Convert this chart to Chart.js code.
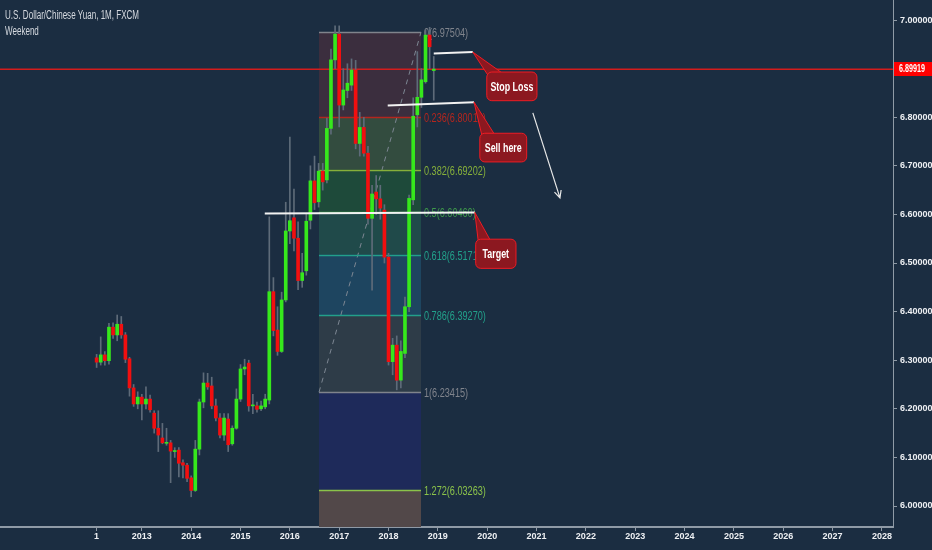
<!DOCTYPE html>
<html>
<head>
<meta charset="utf-8">
<script src="https://cdn.jsdelivr.net/npm/chart.js@4.4.1/dist/chart.umd.min.js"></script>
<style>
  html, body { margin: 0; padding: 0; background: #1b2d41; }
</style>
</head>
<body>
<canvas id="grafico" width="932" height="550"></canvas>
<script>
// meses contados a partir de jan/2012 (0 = jan 2012), candles mensais fev/2012 .. dez/2018
const primeiroMes = 1;
const opens  = [6.305,6.296,6.311,6.299,6.368,6.352,6.374,6.352,6.303,6.243,6.210,6.224,6.210,6.220,6.191,6.160,6.140,6.129,6.130,6.112,6.115,6.089,6.084,6.058,
                6.032,6.117,6.214,6.253,6.247,6.206,6.181,6.146,6.179,6.128,6.160,6.220,6.282,6.294,6.206,6.206,6.200,6.204,6.218,6.441,6.362,6.318,6.424,6.566,
                6.593,6.551,6.464,6.484,6.588,6.669,6.626,6.689,6.671,6.777,6.918,6.971,6.825,6.855,6.866,6.897,6.746,6.779,6.726,6.592,6.646,6.632,6.609,6.512,
                6.297,6.331,6.259,6.314,6.410,6.630,6.805,6.841,6.873,6.969,6.896];
const highs  = [6.312,6.348,6.318,6.376,6.377,6.393,6.390,6.357,6.306,6.250,6.235,6.230,6.245,6.228,6.196,6.196,6.170,6.160,6.135,6.120,6.120,6.095,6.088,6.062,
                6.135,6.220,6.274,6.273,6.265,6.220,6.190,6.190,6.190,6.165,6.241,6.291,6.302,6.300,6.230,6.214,6.216,6.230,6.595,6.470,6.410,6.440,6.625,6.759,
                6.652,6.585,6.520,6.600,6.700,6.720,6.705,6.705,6.798,6.940,6.988,6.988,6.900,6.910,6.920,6.917,6.810,6.800,6.740,6.660,6.680,6.660,6.620,6.520,
                6.345,6.350,6.340,6.430,6.640,6.840,6.935,6.900,6.980,6.985,6.925];
const lows   = [6.285,6.290,6.290,6.292,6.345,6.340,6.345,6.295,6.226,6.205,6.200,6.177,6.200,6.193,6.150,6.112,6.128,6.125,6.048,6.100,6.060,6.058,6.050,6.019,
                6.030,6.105,6.202,6.240,6.200,6.175,6.140,6.135,6.112,6.125,6.158,6.215,6.270,6.195,6.190,6.193,6.196,6.200,6.210,6.350,6.310,6.316,6.420,6.540,
                6.525,6.445,6.450,6.475,6.570,6.610,6.615,6.650,6.665,6.765,6.900,6.780,6.815,6.840,6.855,6.735,6.720,6.720,6.580,6.444,6.600,6.590,6.500,6.290,
                6.270,6.239,6.243,6.305,6.400,6.620,6.780,6.820,6.870,6.900,6.835];
const closes = [6.296,6.311,6.299,6.368,6.352,6.374,6.352,6.302,6.243,6.210,6.224,6.210,6.220,6.198,6.160,6.146,6.130,6.131,6.113,6.114,6.088,6.084,6.057,6.032,
                6.117,6.214,6.253,6.245,6.206,6.181,6.146,6.181,6.126,6.160,6.220,6.282,6.286,6.206,6.208,6.199,6.206,6.220,6.441,6.361,6.318,6.424,6.566,6.587,
                6.551,6.464,6.480,6.586,6.669,6.624,6.689,6.667,6.777,6.918,6.971,6.825,6.856,6.870,6.897,6.746,6.779,6.726,6.592,6.642,6.632,6.613,6.512,6.297,
                6.331,6.259,6.318,6.410,6.633,6.802,6.841,6.877,6.969,6.945,6.899];
const precoAtual = 6.89919;

// eixos
const xTicksMes = [1,12,24,36,48,60,72,84,96,108,120,132,144,156,168,180,192];
const xTicksLabel = ['1','2013','2014','2015','2016','2017','2018','2019','2020','2021','2022','2023','2024','2025','2026','2027','2028'];
const yTicks = [6.0,6.1,6.2,6.3,6.4,6.5,6.6,6.7,6.8,6.9,7.0];

// fibonacci
const fibRatios = [0, 0.236, 0.382, 0.5, 0.618, 0.786, 1, 1.272, 1.618];
const fibPrecos = [6.97504, 6.80019, 6.69202, 6.60460, 6.51717, 6.39270, 6.23415, 6.03263, 5.77628];
const fibInicio = 55.06, fibFim = 79.9;

// desenhos (mes, preco)
const linhaStop   = [[83.0, 6.931], [92.5, 6.934]];
const linhaVenda  = [[71.8, 6.824], [92.8, 6.831]];
const linhaAlvo   = [[41.9, 6.602], [93.0, 6.604]];
const balaoTextos = ['Stop Loss', 'Sell here', 'Target'];
const balaoCaixas = [[95.9, 6.893, 108.1, 6.834], [94.2, 6.767, 105.6, 6.708], [93.2, 6.549, 103.0, 6.489]];
const seta = [[107.1, 6.809], [113.7, 6.634]];

const meses = opens.map((_, i) => primeiroMes + i);
const corAlta = '#36e81c', corBaixa = '#f20f0f';
const coresCandle = opens.map((o, i) => closes[i] >= o ? corAlta : corBaixa);

const fonte = '"Liberation Sans", Arial, sans-serif';
const fibFundo = ['#3b2e3e', '#334c3f', '#1e4a3a', '#204a4a', '#1e4560', '#2e3c48', '#1e2a5a', '#524849'];
const fibLinha = ['#80848c', '#b3261e', '#86b03a', '#3e9a4a', '#22a08a', '#22a08a', '#80848c', '#8bc34a'];

// texto estreito (a fonte original e condensada)
function textoEstreito(ctx, txt, x, y, escala) {
  ctx.save();
  ctx.translate(x, y);
  ctx.scale(escala, 1);
  ctx.fillText(txt, 0, 0);
  ctx.restore();
}

const fibPlugin = {
  id: 'fib',
  beforeDatasetsDraw(chart) {
    const { ctx, chartArea: a, scales: { x, y } } = chart;
    ctx.save();
    ctx.beginPath();
    ctx.rect(a.left, a.top, a.right - a.left, a.bottom - a.top);
    ctx.clip();
    const x0 = Math.round(x.getPixelForValue(fibInicio));
    const x1 = Math.round(x.getPixelForValue(fibFim));
    for (let i = 0; i < fibFundo.length; i++) {
      const yA = y.getPixelForValue(fibPrecos[i]);
      const yB = y.getPixelForValue(fibPrecos[i + 1]);
      ctx.fillStyle = fibFundo[i];
      ctx.fillRect(x0, yA, x1 - x0, yB - yA);
    }
    // linha pontilhada diagonal
    ctx.strokeStyle = '#7d8793';
    ctx.lineWidth = 1;
    ctx.setLineDash([5, 5]);
    ctx.beginPath();
    ctx.moveTo(x0, y.getPixelForValue(fibPrecos[6]));
    ctx.lineTo(x1, y.getPixelForValue(fibPrecos[0]));
    ctx.stroke();
    ctx.setLineDash([]);
    ctx.lineWidth = 1.5;
    for (let i = 0; i < fibLinha.length; i++) {
      const yy = Math.round(y.getPixelForValue(fibPrecos[i])) + 0.5;
      ctx.strokeStyle = fibLinha[i];
      ctx.beginPath();
      ctx.moveTo(x0, yy);
      ctx.lineTo(x1, yy);
      ctx.stroke();
      ctx.fillStyle = fibLinha[i];
      ctx.font = '12px ' + fonte;
      ctx.textBaseline = 'middle';
      textoEstreito(ctx, String(fibRatios[i]) + '(' + fibPrecos[i].toFixed(5) + ')', x1 + 3, yy + 1, 0.76);
    }
    // linha do preco atual
    const yp = Math.round(y.getPixelForValue(precoAtual));
    ctx.fillStyle = '#d41c1c';
    ctx.fillRect(a.left, yp - 0.5, a.right - a.left, 1.5);
    ctx.restore();
  },
  afterDatasetsDraw(chart) {
    const { ctx, scales: { x, y } } = chart;
    const px = p => [x.getPixelForValue(p[0]), y.getPixelForValue(p[1])];
    ctx.save();
    // linhas brancas
    ctx.strokeStyle = '#f2f2f2';
    ctx.lineWidth = 2;
    [linhaStop, linhaVenda, linhaAlvo].forEach(l => {
      const [ax, ay] = px(l[0]);
      const [bx, by] = px(l[1]);
      ctx.beginPath();
      ctx.moveTo(ax, ay);
      ctx.lineTo(bx, by);
      ctx.stroke();
    });
    // baloes
    const pontas = [linhaStop[1], linhaVenda[1], linhaAlvo[1]];
    balaoCaixas.forEach((c, i) => {
      const [l, t] = px([c[0], c[1]]);
      const [r, b] = px([c[2], c[3]]);
      const [tx, ty] = px(pontas[i]);
      ctx.fillStyle = '#8c1820';
      ctx.strokeStyle = '#ee1c24';
      ctx.lineWidth = 1;
      ctx.beginPath();
      ctx.moveTo(l + 3, t + 6);
      ctx.lineTo(tx, ty);
      ctx.lineTo(l + 14, t);
      ctx.closePath();
      ctx.fill();
      ctx.stroke();
      ctx.beginPath();
      ctx.roundRect(l, t, r - l, b - t, 5);
      ctx.fill();
      ctx.stroke();
      ctx.fillStyle = '#ffffff';
      ctx.font = 'bold 12px ' + fonte;
      ctx.textAlign = 'center';
      ctx.textBaseline = 'middle';
      textoEstreito(ctx, balaoTextos[i], (l + r) / 2, (t + b) / 2 + 1, 0.74);
    });
    // seta
    const [sx, sy] = px(seta[0]);
    const [ex, ey] = px(seta[1]);
    const ang = Math.atan2(ey - sy, ex - sx);
    ctx.strokeStyle = '#e8e8e8';
    ctx.lineWidth = 1.2;
    ctx.beginPath();
    ctx.moveTo(sx, sy);
    ctx.lineTo(ex, ey);
    ctx.moveTo(ex - 8 * Math.cos(ang - 0.45), ey - 8 * Math.sin(ang - 0.45));
    ctx.lineTo(ex, ey);
    ctx.lineTo(ex - 8 * Math.cos(ang + 0.45), ey - 8 * Math.sin(ang + 0.45));
    ctx.stroke();
    ctx.restore();
  },
  afterDraw(chart) {
    const { ctx, chartArea: a, scales: { y } } = chart;
    ctx.save();
    // titulo
    ctx.fillStyle = '#d6dae0';
    ctx.font = '12px ' + fonte;
    ctx.textBaseline = 'middle';
    textoEstreito(ctx, 'U.S. Dollar/Chinese Yuan, 1M, FXCM', 5, 16, 0.67);
    textoEstreito(ctx, 'Weekend', 5, 32, 0.67);
    // etiqueta do preco
    const yp = y.getPixelForValue(precoAtual);
    ctx.fillStyle = '#ff0000';
    ctx.fillRect(a.right + 1, yp - 7, 39, 14);
    ctx.fillStyle = '#ffffff';
    ctx.font = 'bold 10px ' + fonte;
    textoEstreito(ctx, precoAtual.toFixed(5), a.right + 6, yp + 0.5, 0.72);
    ctx.restore();
  }
};

const corEixo = '#8f9aa6';
new Chart(document.getElementById('grafico'), {
  type: 'bar',
  data: {
    datasets: [{
      label: 'corpo',
      data: meses.map((m, i) => ({ x: m, y: [opens[i], closes[i]] })),
      backgroundColor: coresCandle,
      barThickness: 3,
      minBarLength: 1,
      grouped: false,
      order: 1
    }, {
      label: 'pavio',
      data: meses.map((m, i) => ({ x: m, y: [lows[i], highs[i]] })),
      backgroundColor: '#5e6b79',
      barThickness: 1,
      grouped: false,
      order: 2
    }]
  },
  options: {
    responsive: false,
    animation: false,
    layout: { padding: 0 },
    plugins: { legend: { display: false }, tooltip: { enabled: false } },
    scales: {
      x: {
        type: 'linear',
        offset: false,
        min: -22.5,
        max: 194.7,
        afterBuildTicks: s => { s.ticks = xTicksMes.map(v => ({ value: v })); },
        afterFit: s => { s.height = 23; s.paddingLeft = 0; s.paddingRight = 0; },
        ticks: {
          callback: (v, i) => xTicksLabel[i],
          color: '#eef0f3',
          font: { family: fonte, size: 9, weight: 'bold' },
          maxRotation: 0,
          autoSkip: false,
          padding: 0
        },
        grid: { drawOnChartArea: false, offset: false, tickLength: 4, color: corEixo },
        border: { color: corEixo, width: 2 }
      },
      y: {
        position: 'right',
        min: 5.9568,
        max: 7.0412,
        afterBuildTicks: s => { s.ticks = yTicks.map(v => ({ value: v })); },
        afterFit: s => { s.width = 39; s.paddingTop = 0; s.paddingBottom = 0; },
        ticks: {
          callback: v => v.toFixed(5),
          color: '#eef0f3',
          font: { family: fonte, size: 9, weight: 'bold' },
          padding: 3
        },
        grid: { drawOnChartArea: false, tickLength: 4, color: corEixo },
        border: { color: corEixo, width: 1 }
      }
    }
  },
  plugins: [fibPlugin]
});
</script>
</body>
</html>
